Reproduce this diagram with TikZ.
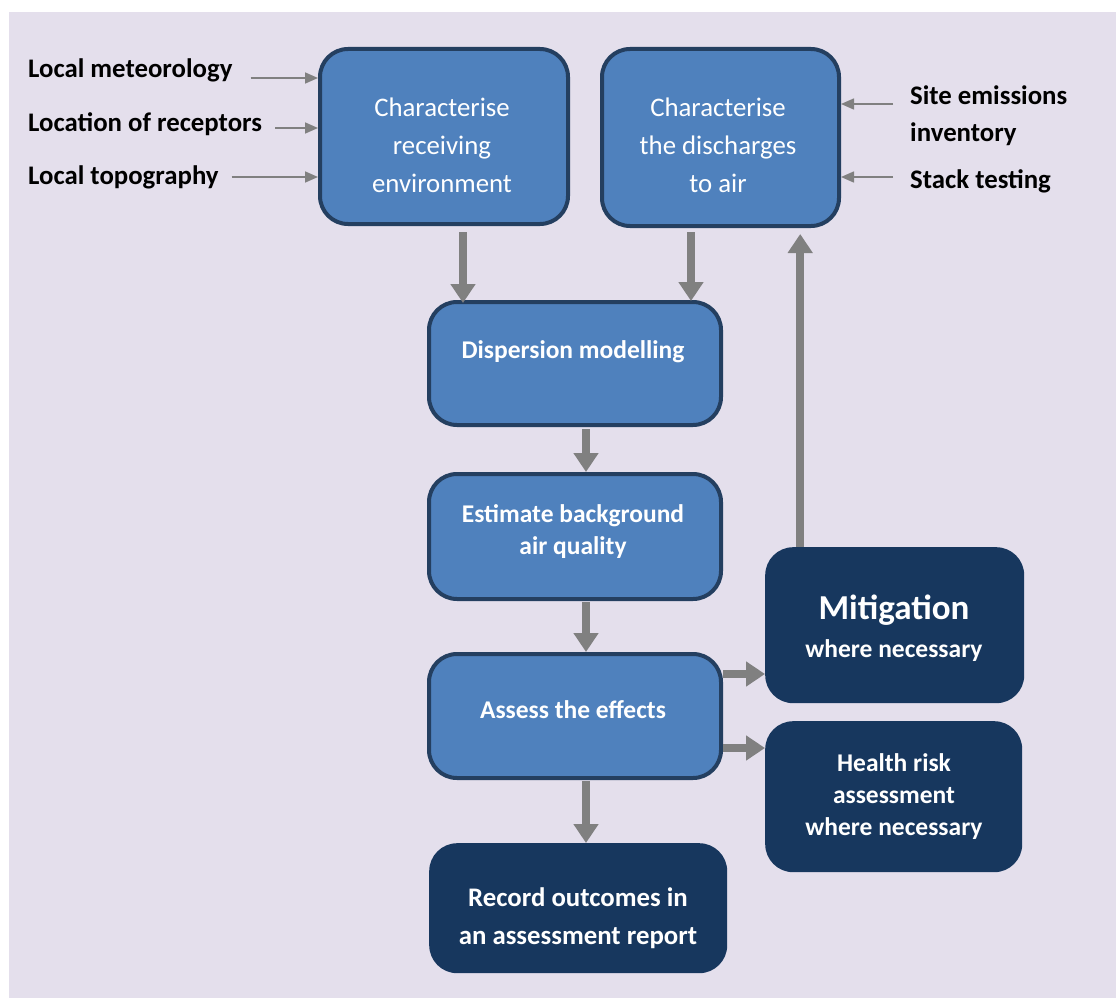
\documentclass[tikz,border=0pt]{standalone}
\usepackage{fontspec}
\setmainfont{Carlito}
\usetikzlibrary{arrows.meta}
\definecolor{bg}{HTML}{E4DFEC}
\definecolor{boxfill}{HTML}{4F81BD}
\definecolor{boxline}{HTML}{243F60}
\definecolor{darkfill}{HTML}{17375E}
\definecolor{arrgray}{HTML}{808080}
\begin{document}
\begin{tikzpicture}[x=1pt,y=-1pt,
  lightbox/.style={draw=boxline,line width=4pt,fill=boxfill,rounded corners=28pt,inner sep=0pt,anchor=north west},
  darkbox/.style={fill=darkfill,rounded corners=28pt,inner sep=0pt,anchor=north west},
  txt/.style={text=white,align=center,inner sep=0pt,font=\fontsize{26.8}{38}\selectfont},
  btxt/.style={text=white,align=center,inner sep=0pt,font=\fontsize{25.5}{32}\selectfont\bfseries},
  lab/.style={text=black,align=left,inner sep=0pt,anchor=west,font=\fontsize{26.8}{37}\selectfont\bfseries},
  thin/.style={draw=arrgray,line width=1.6pt,-{Triangle[width=11pt,length=13pt]}},
  big/.style={draw=arrgray,line width=8pt,-{Triangle[width=24pt,length=19pt]}}
]
\useasboundingbox (0,0) rectangle (1116,998);
\fill[white] (0,0) rectangle (1116,998);
\fill[bg] (9,12) rectangle (1116,998);

% boxes
\node[lightbox,minimum width=248pt,minimum height=175pt] (b1) at (318,47) {};
\node[lightbox,minimum width=237pt,minimum height=177pt] (b2) at (600,47) {};
\node[lightbox,minimum width=292pt,minimum height=123pt] (disp) at (427,300) {};
\node[lightbox,minimum width=292pt,minimum height=125pt] (est) at (427,472) {};
\node[lightbox,minimum width=292pt,minimum height=124pt] (ass) at (427,652) {};
\node[darkbox,minimum width=259pt,minimum height=156pt] (mit) at (765,547) {};
\node[darkbox,minimum width=257pt,minimum height=151pt] (hra) at (765,721) {};
\node[darkbox,minimum width=298pt,minimum height=130pt] (rec) at (429,843) {};

% box texts
\node[txt] (t1) at (442,145) {Characterise\\receiving\\environment};
\node[txt] (t2) at (718,145) {Characterise\\the discharges\\to air};
\node[btxt] (t3) at (573,352) {Dispersion modelling};
\node[btxt] (t4) at (573,532) {Estimate background\\air quality};
\node[btxt] (t5) at (573,710) {Assess the effects};
\node[text=white,inner sep=0pt,font=\fontsize{35}{36}\selectfont\bfseries] (t6) at (894,610) {Mitigation};
\node[btxt] (t7) at (894,651) {where necessary};
\node[btxt] (t8) at (894,797) {Health risk\\assessment\\where necessary};
\node[btxt,font=\fontsize{26.8}{38}\selectfont\bfseries] (t9) at (578,918) {Record outcomes in\\an assessment report};

% side labels
\node[lab] (l1) at (28,70) {Local meteorology};
\node[lab] (l2) at (28,124) {Location of receptors};
\node[lab] (l3) at (28,177) {Local topography};
\node[lab] (r1) at (910,115.5) {Site emissions\\inventory};
\node[lab] (r2) at (910,181) {Stack testing};

% thin arrows
\draw[thin] ([xshift=18pt,yshift=-8pt]l1.east) -- ([yshift=-8pt]l1.east -| b1.west);
\draw[thin] ([xshift=13pt,yshift=-4pt]l2.east) -- ([yshift=-4pt]l2.east -| b1.west);
\draw[thin] ([xshift=13pt]l3.east) -- (l3.east -| b1.west);
\coordinate (r1a) at ([xshift=-17pt]r1.west);
\draw[thin] ([yshift=11.5pt]r1a) -- ([yshift=11.5pt]r1a -| b2.east);
\draw[thin] ([xshift=-17pt,yshift=4pt]r2.west) -- ([yshift=4pt]r2.west -| b2.east);

% thick arrows
\draw[big,shorten >=3pt] ([xshift=19pt,yshift=-6pt]b1.south) -- ([xshift=19pt,yshift=-6pt]b1.south |- disp.north);
\draw[big,shorten >=3pt] ([xshift=-29.5pt,yshift=-4pt]b2.south) -- ([xshift=-29.5pt,yshift=-4pt]b2.south |- disp.north);
\draw[big] ([xshift=11pt,yshift=-2pt]disp.south) -- ([xshift=11pt]disp.south |- est.north);
\draw[big] ([xshift=11pt,yshift=-1pt]est.south) -- ([xshift=11pt]est.south |- ass.north);
\draw[big] ([xshift=11pt,yshift=-1pt]ass.south) -- ([xshift=11pt]ass.south |- rec.north);
\draw[big] ([yshift=42pt]ass.east) -- ([yshift=42pt]ass.east -| mit.west);
\draw[big] ([yshift=-32pt]ass.east) -- ([yshift=-32pt]ass.east -| hra.west);
\draw[big,shorten >=6pt] ([xshift=-94.5pt]mit.north) -- ([xshift=-94.5pt]mit.north |- b2.south);
\end{tikzpicture}
\end{document}
